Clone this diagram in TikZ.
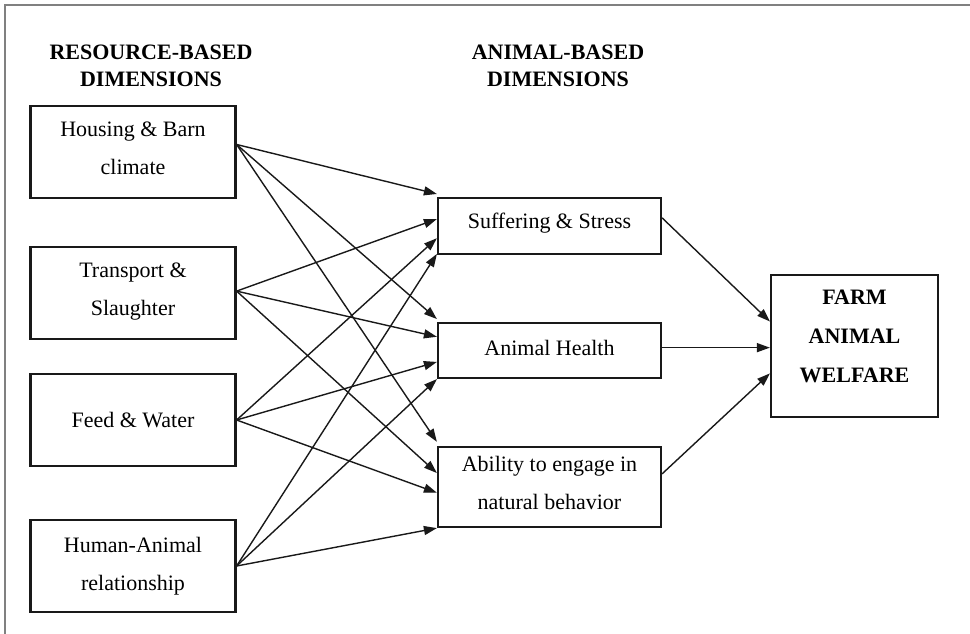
\documentclass[tikz,border=0pt]{standalone}
\usepackage{fontspec}
\setmainfont{Liberation Serif}
\usetikzlibrary{arrows.meta,calc}
\begin{document}
\begin{tikzpicture}[x=1pt,y=-1pt,
  box/.style={draw=black!90, line width=2.2pt, inner sep=0pt, align=center,
    font=\fontsize{22}{38}\selectfont},
  srcbox/.style={box, minimum width=205pt, minimum height=92pt},
  midbox/.style={box, minimum width=223pt},
  hdr/.style={align=center, font=\bfseries\fontsize{22}{27}\selectfont},
  arr/.style={line width=1.4pt, draw=black!90, -{Triangle[length=13pt,width=9pt]}},
  frameline/.style={draw=black!50, line width=2pt}
]
\useasboundingbox (0,0) rectangle (970,634);
\draw[frameline] (5,634) -- (5,5) -- (970,5);

% headers
\node[hdr] (rh) at (151,66) {RESOURCE-BASED\\DIMENSIONS};
\node[hdr] (ah) at (558,66) {ANIMAL-BASED\\DIMENSIONS};

% resource boxes
\node[srcbox, text depth=8pt] (hb) at (133,152) {Housing \& Barn\\climate};
\node[srcbox, text depth=8pt] (ts) at (133,293) {Transport \&\\Slaughter};
\node[srcbox] (fw) at (133,420) {Feed \& Water};
\node[srcbox] (ha) at (133,566) {Human-Animal\\relationship};

% animal boxes
\node[midbox, minimum height=56pt, text depth=10pt] (ss) at (549.5,226) {Suffering \& Stress};
\node[midbox, minimum height=55pt, text depth=6pt] (ah2) at (549.5,350.5) {Animal Health};
\node[midbox, minimum height=80pt, text depth=8pt] (ab) at (549.5,487) {Ability to engage in\\natural behavior};

% farm
\node[box, font=\bfseries\fontsize{22}{39}\selectfont, minimum width=167pt, minimum height=142pt, text depth=20pt] (fa) at (854.5,346) {FARM\\ANIMAL\\WELFARE};

% source points
\coordinate (hbo) at ($(hb.north east)!0.42!(hb.south east)$);
\coordinate (tso) at ($(ts.north east)!0.48!(ts.south east)$);
\coordinate (fwo) at (fw.east);
\coordinate (hao) at (ha.east);

% targets on suffering
\draw[arr] (hbo) -- ($(ss.north west)!-0.05!(ss.south west)$);
\draw[arr] (tso) -- ($(ss.north west)!0.38!(ss.south west)$);
\draw[arr] (fwo) -- ($(ss.north west)!0.71!(ss.south west)$);
\draw[arr] (hao) -- ($(ss.north west)!0.98!(ss.south west)$);
% targets on health
\draw[arr] (hbo) -- ($(ah2.north west)!-0.05!(ah2.south west)$);
\draw[arr] (tso) -- ($(ah2.north west)!0.26!(ah2.south west)$);
\draw[arr] (fwo) -- ($(ah2.north west)!0.7!(ah2.south west)$);
\draw[arr] (hao) -- ($(ah2.north west)!1.0!(ah2.south west)$);
% targets on ability
\draw[arr] (hbo) -- ($(ab.north west)!-0.05!(ab.south west)$);
\draw[arr] (tso) -- ($(ab.north west)!0.33!(ab.south west)$);
\draw[arr] (fwo) -- ($(ab.north west)!0.57!(ab.south west)$);
\draw[arr] (hao) -- ($(ab.north west)!1.0!(ab.south west)$);

% to farm
\draw[arr] ($(ss.north east)!0.36!(ss.south east)$) -- ($(fa.north west)!0.33!(fa.south west)$);
\draw[arr] ($(ah2.north east)!0.45!(ah2.south east)$) coordinate (ahx) -- (ahx -| fa.west);
\draw[arr] ($(ab.north east)!0.34!(ab.south east)$) -- ($(fa.north west)!0.69!(fa.south west)$);
\end{tikzpicture}
\end{document}
